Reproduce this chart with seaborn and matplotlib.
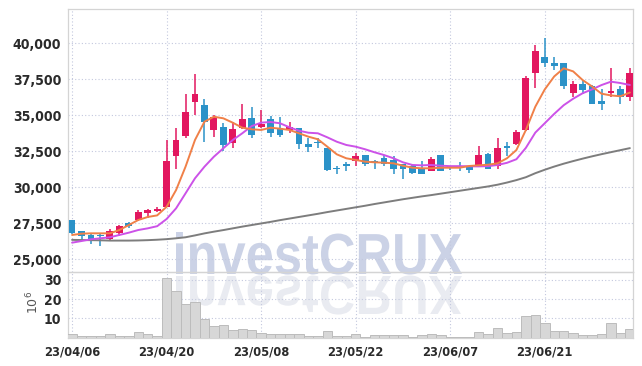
import numpy as np
import matplotlib
matplotlib.use("Agg")
import matplotlib.pyplot as plt
import seaborn as sns
from matplotlib.textpath import TextPath
from matplotlib.patches import PathPatch
from matplotlib.font_manager import FontProperties, findfont
from matplotlib.transforms import Affine2D
from matplotlib.ticker import FuncFormatter

# ---------------- data ----------------
tick_pos = [0, 10, 20, 30, 40, 50]
tick_labels = ["23/04/06", "23/04/20", "23/05/08", "23/05/22", "23/06/07", "23/06/21"]

open_ = [27700, 26950, 26700, 26650, 26400, 26850, 27550, 27700, 28250, 28350,
         28650, 32150, 33550, 35900, 35700, 33950, 34200, 33050, 34100, 34800,
         34200, 34750, 34100, 34000, 34150, 33000, 33100, 32750, 31350, 31550,
         31800, 32250, 31750, 32050, 31900, 31600, 31500, 31350, 31150, 32250,
         31400, 31450, 31450, 31500, 32300, 31500, 32800, 33000, 33950, 37950,
         39050, 38650, 38650, 36550, 37150, 37050, 36000, 36550, 36800, 36300]
high = [27750, 26950, 26750, 26800, 27100, 27350, 27600, 28450, 28500, 28600,
        33300, 34100, 36500, 37900, 36100, 35000, 34450, 34500, 35800, 35600,
        35350, 34950, 34900, 34550, 34150, 33450, 33400, 32750, 31500, 31750,
        32400, 32250, 31900, 32250, 32200, 31650, 31550, 31850, 32100, 32250,
        31500, 31750, 31450, 32850, 32350, 33400, 33150, 33950, 37700, 39850,
        40350, 39050, 38650, 37400, 37450, 37100, 36800, 38250, 37000, 38250]
low = [26750, 26350, 26050, 25950, 26350, 26600, 27150, 27650, 27850, 28300,
       28600, 31250, 33450, 35000, 33150, 33500, 32550, 32700, 34050, 33400,
       34150, 33500, 33500, 33750, 32650, 32450, 32700, 31150, 30950, 31100,
       31500, 31500, 31300, 31500, 30950, 30600, 30950, 30900, 31100, 31100,
       31200, 31150, 31000, 31450, 31250, 31300, 32150, 32950, 33900, 36900,
       38350, 38150, 36800, 36250, 36450, 35750, 35400, 36300, 35750, 36000]
close = [26800, 26650, 26350, 26600, 26950, 27300, 27300, 28300, 28450, 28500,
         31850, 33300, 35250, 36500, 34500, 34900, 32950, 34050, 34750, 33600,
         34400, 33800, 33650, 34200, 33000, 32800, 33050, 31200, 31250, 31500,
         32200, 31650, 31700, 31650, 31300, 31300, 31000, 30950, 32000, 31150,
         31350, 31400, 31200, 32250, 31300, 32700, 32750, 33850, 37600, 39450,
         38600, 38450, 37000, 37150, 36750, 35800, 35750, 36700, 36300, 37950]
volume_m = [1.7, 1.0, 1.0, 1.0, 1.7, 1.0, 1.0, 2.8, 1.7, 1.0,
            30.8, 24.2, 17.5, 18.3, 9.9, 5.9, 6.4, 3.8, 4.3, 3.8,
            2.4, 1.7, 1.7, 1.7, 1.7, 1.0, 1.0, 3.3, 1.0, 1.0,
            1.6, 0.5, 1.1, 1.1, 1.1, 1.1, 0.5, 1.1, 1.6, 1.1,
            0.5, 0.5, 0.5, 2.8, 1.8, 4.7, 2.3, 2.8, 11.2, 11.8,
            7.4, 3.2, 3.2, 2.3, 1.1, 1.1, 1.6, 7.4, 2.3, 4.2]
ma_orange = [26690, 26780, 26805, 26805, 26805, 27035, 27380, 27730, 27940, 28050,
             28650, 29810, 31430, 33285, 34555, 34900, 34790, 34485, 34140, 34030,
             33980, 34140, 34070, 33980, 33750, 33515, 33335, 32820, 32290, 32015,
             31900, 31780, 31735, 31710, 31665, 31500, 31360, 31320, 31320, 31360,
             31360, 31360, 31480, 31525, 31570, 31665, 32015, 32590, 33980, 35600,
             36800, 37700, 38265, 38050, 37450, 37000, 36500, 36380, 36320, 36580]
ma_purple = [26155, 26270, 26390, 26460, 26530, 26690, 26850, 27035, 27150, 27300,
             27800, 28540, 29580, 30625, 31430, 32125, 32710, 33285, 33750, 34250,
             34490, 34535, 34445, 34165, 33930, 33790, 33750, 33470, 33165, 32940,
             32820, 32640, 32430, 32240, 32015, 31735, 31550, 31525, 31550, 31500,
             31470, 31470, 31460, 31450, 31470, 31550, 31700, 31950, 32740, 33800,
             34450, 35100, 35700, 36150, 36530, 36800, 37100, 37335, 37240, 37105]
ma_gray = [26350, 26340, 26330, 26320, 26300, 26300, 26300, 26310, 26330, 26360,
           26400, 26460, 26530, 26660, 26800, 26920, 27030, 27150, 27270, 27380,
           27490, 27600, 27720, 27830, 27940, 28050, 28160, 28280, 28390, 28500,
           28610, 28720, 28840, 28950, 29060, 29170, 29270, 29370, 29460, 29560,
           29660, 29760, 29860, 29960, 30060, 30180, 30330, 30500, 30700, 30980,
           31220, 31440, 31640, 31820, 31990, 32150, 32300, 32440, 32580, 32720]

# ---------------- style ----------------
sns.set_theme(style="white")
plt.rcParams["font.family"] = ["DejaVu Sans"]

cond = FontProperties(family="DejaVu Sans", stretch="condensed", weight="bold")
try:
    condensed_ok = "ondensed" in findfont(cond, fallback_to_default=True)
except Exception:
    condensed_ok = False
if condensed_ok:
    ytick_fp = dict(fontsize=10, fontstretch="condensed", fontweight="bold")
    xtick_fp = dict(fontsize=9.2, fontstretch="condensed", fontweight="bold")
else:
    ytick_fp = dict(fontsize=9.5)
    xtick_fp = dict(fontsize=8.5)

RED = "#e2175f"
BLUE = "#2b92c8"
GRID = "#c3c8de"
SPINE = "#d4d4d4"
TXT = "#2a2a2a"

W, H = 642, 366
fig = plt.figure(figsize=(W / 100, H / 100), dpi=100)
fig.patch.set_facecolor("white")
L, R = 68.3, 632.7
ax = fig.add_axes([L / W, 1 - 271.7 / H, (R - L) / W, (271.7 - 9.3) / H])
axv = fig.add_axes([L / W, 1 - 337.5 / H, (R - L) / W, (337.5 - 271.7) / H])
for a in (ax, axv):
    a.set_facecolor("none")

o = np.array(open_, float)
c = np.array(close, float)
hi = np.array(high, float)
lo = np.array(low, float)
x = np.arange(len(c))
cols = np.where(c >= o, RED, BLUE)

# candles
ax.vlines(x, lo, hi, colors=cols, lw=1.1, zorder=3)
body = np.maximum(np.abs(c - o), 110)
ax.bar(x, body, bottom=np.minimum(o, c), width=0.72, color=cols, linewidth=0, zorder=3)

# moving averages
sns.lineplot(x=x, y=ma_gray, ax=ax, color="#7d7d7d", lw=1.4, zorder=4)
sns.lineplot(x=x, y=ma_purple, ax=ax, color="#cc52e8", lw=1.4, zorder=5)
sns.lineplot(x=x, y=ma_orange, ax=ax, color="#f08048", lw=1.4, zorder=6)

# volume
sns.barplot(x=x, y=volume_m, ax=axv, native_scale=True, width=1.0, color="#d7d7d7",
            edgecolor="#bcbcbc", linewidth=0.7, saturation=1, zorder=3)

# axes config
xl = (-0.4, 59.3)
ax.set_xlim(*xl)
axv.set_xlim(*xl)
ax.set_ylim(24140, 42360)
axv.set_ylim(0, 34.3)
ax.set_yticks([25000, 27500, 30000, 32500, 35000, 37500, 40000])
ax.yaxis.set_major_formatter(FuncFormatter(lambda v, p: f"{int(v):,}"))
ax.set_xticks(tick_pos)
ax.tick_params(labelbottom=False)
axv.set_xticks(tick_pos)
axv.set_xticklabels(tick_labels)
axv.set_yticks([10, 20, 30])
for a in (ax, axv):
    a.set_xlabel("")
    a.set_ylabel("")
    a.grid(True, color=GRID, ls=(0, (1, 2)), lw=0.8)
    a.set_axisbelow(True)
    a.tick_params(length=0, colors=TXT, pad=5)
    for lab in a.get_yticklabels():
        lab.set(**ytick_fp)
    for lab in a.get_xticklabels():
        lab.set(**xtick_fp)
    for s in a.spines.values():
        s.set_color(SPINE)
        s.set_linewidth(0.9)
axv.tick_params(axis="x", pad=6)

fig.text(33 / W, 1 - 302 / H, r"$10^{6}$", rotation=90, ha="center", va="center",
         fontsize=9, color="#555555")

# watermark + reflection
fp = FontProperties(family="Liberation Sans", weight="bold")
tp = TextPath((0, 0), "investCRUX", size=1, prop=fp)
bb = tp.get_extents()
x0p, x1p = 176, 462
wfrac = (x1p - x0p) / W
top, base = 232, 274
tr = (Affine2D().translate(-bb.x0, 0)
      .scale(wfrac / bb.width, ((base - top) / H) / bb.y1)
      .translate(x0p / W, 1 - base / H))
fig.add_artist(PathPatch(tr.transform_path(tp), transform=fig.transFigure,
                         facecolor="#cbd2e6", edgecolor="none", zorder=-1))
rtop, rbot = 276, 316
tr2 = (Affine2D().translate(-bb.x0, 0)
       .scale(wfrac / bb.width, -((rbot - rtop) / H) / bb.y1)
       .translate(x0p / W, 1 - rtop / H))
fig.add_artist(PathPatch(tr2.transform_path(tp), transform=fig.transFigure,
                         facecolor="#e9ebf1", edgecolor="none", zorder=-1))

fig.savefig("out.png", dpi=100, facecolor="white")
